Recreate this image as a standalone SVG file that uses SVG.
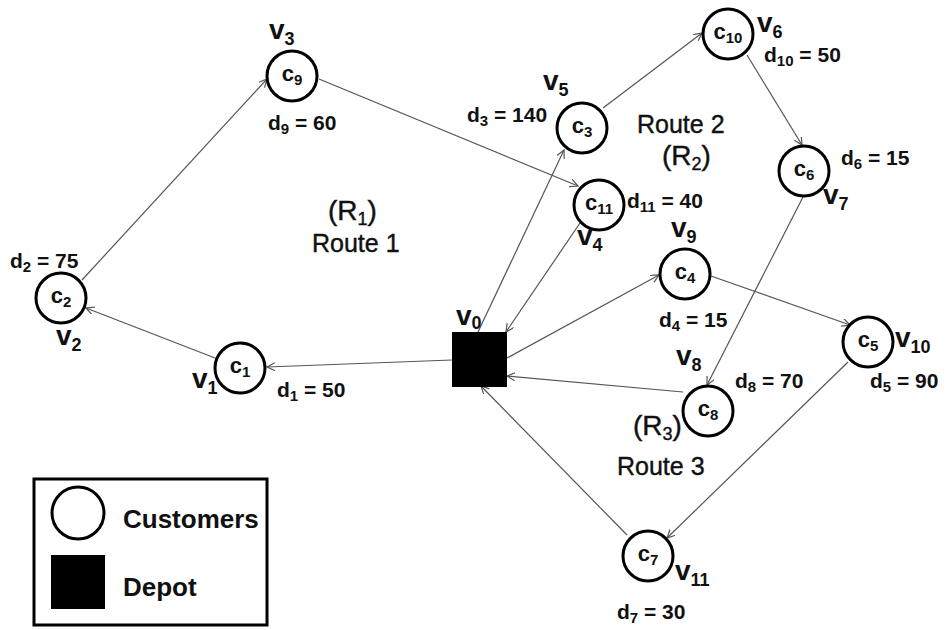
<svg xmlns="http://www.w3.org/2000/svg" width="948" height="630" viewBox="0 0 948 630">
<defs>
<style>
.node circle{fill:#fff;stroke:#000;stroke-width:3}
.lbl{font-family:"Liberation Sans",Arial,sans-serif;font-weight:bold;fill:#111}
.d{font-size:21px}
.v{font-size:28px}
.c{font-size:22px;text-anchor:middle}
.route{font-family:"Liberation Sans",Arial,sans-serif;fill:#111;font-size:25px;stroke:#111;stroke-width:0.4}
.rr{font-size:28px}
.edge{stroke:#555;stroke-width:1.2;fill:none;marker-end:url(#arr)}
</style>
<marker id="arr" markerUnits="userSpaceOnUse" markerWidth="10" markerHeight="10" refX="8" refY="4" orient="auto">
<path d="M0,0 L8,4 L0,8" fill="none" stroke="#555" stroke-width="1.2"/>
</marker>
</defs>
<rect width="948" height="630" fill="#fff"/>

<g id="connectors">
<line class="edge" x1="452" y1="360" x2="267" y2="367"/>
<line class="edge" x1="215" y1="358" x2="86" y2="308"/>
<line class="edge" x1="82" y1="280" x2="267" y2="79"/>
<line class="edge" x1="319" y1="79" x2="578" y2="186"/>
<line class="edge" x1="580" y1="223" x2="506" y2="332"/>
<line class="edge" x1="478" y1="332" x2="564" y2="150"/>
<line class="edge" x1="603" y1="108" x2="702" y2="33"/>
<line class="edge" x1="747" y1="55" x2="802" y2="145"/>
<line class="edge" x1="803" y1="197" x2="707" y2="385"/>
<line class="edge" x1="683" y1="392" x2="507" y2="376"/>
<line class="edge" x1="507" y1="358" x2="659" y2="275"/>
<line class="edge" x1="711" y1="276" x2="850" y2="325"/>
<line class="edge" x1="848" y1="362" x2="667" y2="538"/>
<line class="edge" x1="627" y1="535" x2="481" y2="386"/>
</g>

<g id="depot">
<rect x="452" y="332" width="55" height="55" fill="#000"/>
<text class="lbl v" x="456" y="325">v<tspan font-size="18" dy="4">0</tspan></text>
</g>

<g id="c1" class="node">
<circle cx="240" cy="368" r="25"/>
<text class="lbl c" x="240" y="373">c<tspan font-size="15" dy="4">1</tspan></text>
<text class="lbl v" x="192" y="388">v<tspan font-size="18" dy="6">1</tspan></text>
<text class="lbl d" x="277" y="397">d<tspan font-size="15" dy="4">1</tspan><tspan dy="-4"> = 50</tspan></text>
</g>

<g id="c2" class="node">
<circle cx="61" cy="298" r="25"/>
<text class="lbl c" x="61" y="303">c<tspan font-size="15" dy="4">2</tspan></text>
<text class="lbl v" x="56" y="345">v<tspan font-size="18" dy="6">2</tspan></text>
<text class="lbl d" x="10" y="268">d<tspan font-size="15" dy="4">2</tspan><tspan dy="-4"> = 75</tspan></text>
</g>

<g id="c9" class="node">
<circle cx="292" cy="76" r="25"/>
<text class="lbl c" x="292" y="81">c<tspan font-size="15" dy="4">9</tspan></text>
<text class="lbl v" x="269" y="39">v<tspan font-size="18" dy="6">3</tspan></text>
<text class="lbl d" x="268" y="130">d<tspan font-size="15" dy="4">9</tspan><tspan dy="-4"> = 60</tspan></text>
</g>

<g id="c11" class="node">
<circle cx="599" cy="205" r="25"/>
<text class="lbl c" x="599" y="210">c<tspan font-size="15" dy="4">11</tspan></text>
<text class="lbl v" x="577" y="245">v<tspan font-size="18" dy="6">4</tspan></text>
<text class="lbl d" x="627" y="208">d<tspan font-size="15" dy="4">11</tspan><tspan dy="-4"> = 40</tspan></text>
</g>

<g id="c3" class="node">
<circle cx="582" cy="128" r="25"/>
<text class="lbl c" x="582" y="133">c<tspan font-size="15" dy="4">3</tspan></text>
<text class="lbl v" x="543" y="90">v<tspan font-size="18" dy="6">5</tspan></text>
<text class="lbl d" x="467" y="122">d<tspan font-size="15" dy="4">3</tspan><tspan dy="-4"> = 140</tspan></text>
</g>

<g id="c10" class="node">
<circle cx="728" cy="34" r="25"/>
<text class="lbl c" x="728" y="39">c<tspan font-size="15" dy="4">10</tspan></text>
<text class="lbl v" x="757" y="32">v<tspan font-size="18" dy="6">6</tspan></text>
<text class="lbl d" x="764" y="62">d<tspan font-size="15" dy="4">10</tspan><tspan dy="-4"> = 50</tspan></text>
</g>

<g id="c6" class="node">
<circle cx="804" cy="171" r="25"/>
<text class="lbl c" x="804" y="176">c<tspan font-size="15" dy="4">6</tspan></text>
<text class="lbl v" x="823" y="204">v<tspan font-size="18" dy="6">7</tspan></text>
<text class="lbl d" x="841" y="165">d<tspan font-size="15" dy="4">6</tspan><tspan dy="-4"> = 15</tspan></text>
</g>

<g id="c8" class="node">
<circle cx="708" cy="411" r="25"/>
<text class="lbl c" x="708" y="416">c<tspan font-size="15" dy="4">8</tspan></text>
<text class="lbl v" x="676" y="365">v<tspan font-size="18" dy="6">8</tspan></text>
<text class="lbl d" x="735" y="388">d<tspan font-size="15" dy="4">8</tspan><tspan dy="-4"> = 70</tspan></text>
</g>

<g id="c4" class="node">
<circle cx="685" cy="274" r="25"/>
<text class="lbl c" x="685" y="279">c<tspan font-size="15" dy="4">4</tspan></text>
<text class="lbl v" x="671" y="237">v<tspan font-size="18" dy="6">9</tspan></text>
<text class="lbl d" x="659" y="327">d<tspan font-size="15" dy="4">4</tspan><tspan dy="-4"> = 15</tspan></text>
</g>

<g id="c5" class="node">
<circle cx="868" cy="342" r="25"/>
<text class="lbl c" x="868" y="347">c<tspan font-size="15" dy="4">5</tspan></text>
<text class="lbl v" x="895" y="347">v<tspan font-size="18" dy="6">10</tspan></text>
<text class="lbl d" x="870" y="388">d<tspan font-size="15" dy="4">5</tspan><tspan dy="-4"> = 90</tspan></text>
</g>

<g id="c7" class="node">
<circle cx="648" cy="556" r="25"/>
<text class="lbl c" x="648" y="561">c<tspan font-size="15" dy="4">7</tspan></text>
<text class="lbl v" x="675" y="580">v<tspan font-size="18" dy="6">11</tspan></text>
<text class="lbl d" x="617" y="619">d<tspan font-size="15" dy="4">7</tspan><tspan dy="-4"> = 30</tspan></text>
</g>

<g id="routes">
<text class="route rr" x="328" y="220">(R<tspan font-size="18" dy="5">1</tspan><tspan dy="-5">)</tspan></text>
<text class="route" x="312" y="252">Route 1</text>
<text class="route" x="637" y="133">Route 2</text>
<text class="route rr" x="662" y="165">(R<tspan font-size="18" dy="5">2</tspan><tspan dy="-5">)</tspan></text>
<text class="route rr" x="633" y="435">(R<tspan font-size="18" dy="5">3</tspan><tspan dy="-5">)</tspan></text>
<text class="route" x="617" y="475">Route 3</text>
</g>

<g id="legend">
<rect x="34" y="479" width="233" height="146" fill="none" stroke="#000" stroke-width="3"/>
<circle cx="78" cy="513" r="26" fill="#fff" stroke="#000" stroke-width="3"/>
<rect x="51" y="555" width="54" height="54" fill="#000"/>
<text class="lbl" x="123" y="528" font-size="26">Customers</text>
<text class="lbl" x="123" y="596" font-size="26">Depot</text>
</g>
</svg>
